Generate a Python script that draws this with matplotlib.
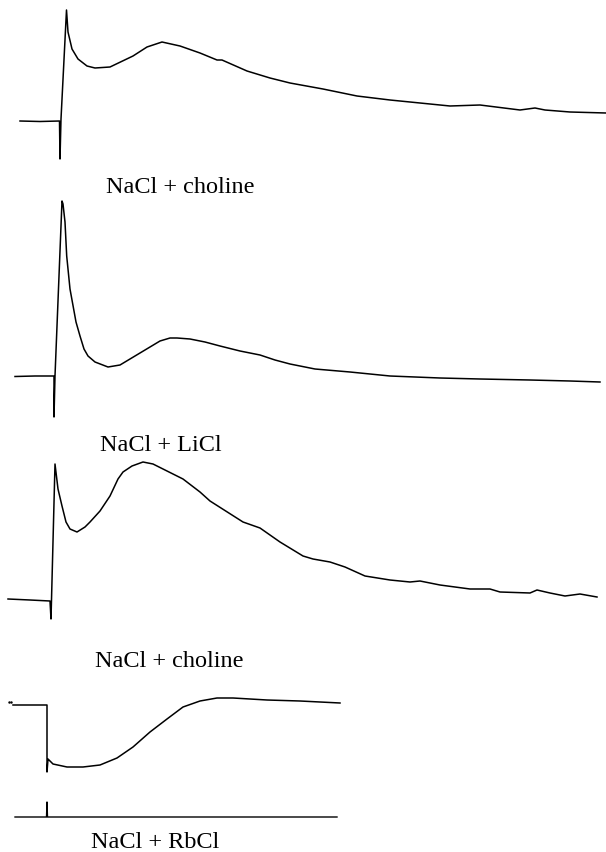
import matplotlib
matplotlib.use('Agg')
import matplotlib.pyplot as plt

# figure size in pixels
W, H = 606, 853

# --- trace 1: NaCl + choline (time in s from stimulus, response in mV) ---
t1 = [-4.0, -2.0, -0.05, 0.0, 0.1, 0.65, 0.8, 1.2, 1.8, 2.7, 3.5, 5.0, 7.3, 8.7,
      10.2, 12.0, 14.0, 15.7, 16.2, 18.7, 21.0, 23.0, 26.3, 29.7, 33.0, 36.0,
      39.0, 42.0, 46.0, 47.5, 48.5, 51.0, 54.6]
v1 = [0.0, -0.05, 0.0, -3.8, 0.2, 11.1, 8.9, 7.2, 6.2, 5.5, 5.3, 5.4, 6.5, 7.4,
      7.9, 7.5, 6.8, 6.1, 6.1, 5.0, 4.3, 3.8, 3.2, 2.5, 2.1, 1.8,
      1.5, 1.6, 1.1, 1.3, 1.1, 0.9, 0.8]

# --- trace 2: NaCl + LiCl ---
t2 = [-3.9, -1.9, 0.0, 0.0, 0.1, 0.8, 0.9, 1.1, 1.27, 1.6, 2.2, 2.6, 3.0, 3.4,
      4.1, 5.4, 6.6, 7.6, 9.1, 10.6, 11.6, 12.3, 13.6, 15.1, 16.6, 18.6, 20.6,
      22.1, 23.6, 26.1, 29.6, 33.6, 38.6, 42.6, 47.6, 51.6, 54.6]
v2 = [-0.05, 0.0, 0.0, -4.1, 0.0, 17.5, 17.2, 15.4, 12.0, 8.7, 5.4, 4.0, 2.7, 2.0,
      1.4, 0.9, 1.1, 1.7, 2.6, 3.5, 3.8, 3.8, 3.7, 3.4, 3.0, 2.5, 2.1,
      1.6, 1.2, 0.7, 0.4, 0.0, -0.2, -0.3, -0.4, -0.5, -0.6]

# --- trace 3: NaCl + choline ---
t3 = [-4.3, -2.1, -0.1, 0.0, 0.05, 0.4, 0.7, 1.1, 1.5, 1.9, 2.6, 3.4, 3.9, 4.9,
      5.9, 6.7, 7.2, 8.1, 9.2, 10.2, 11.6, 13.2, 14.9, 15.9, 19.2, 20.9, 22.9,
      25.2, 26.2, 27.9, 29.4, 31.4, 33.9, 35.9, 36.9, 38.9, 41.9, 43.9, 44.9,
      47.9, 48.6, 49.9, 51.4, 52.9, 54.6]
v3 = [0.1, 0.0, -0.1, -1.9, 0.0, 13.6, 11.1, 9.4, 7.8, 7.1, 6.8, 7.3, 7.8, 8.9,
      10.4, 12.1, 12.8, 13.4, 13.8, 13.6, 12.9, 12.1, 10.8, 9.9, 7.8, 7.2, 5.8,
      4.4, 4.1, 3.8, 3.3, 2.4, 2.0, 1.8, 1.9, 1.5, 1.1, 1.1, 0.8,
      0.7, 1.0, 0.7, 0.4, 0.6, 0.3]

# --- trace 4: NaCl + RbCl (hyperpolarising) ---
t4 = [-3.4, 0.0, 0.0, 0.1, 0.2, 0.6, 2.0, 3.6, 5.3, 7.0, 8.6, 10.3, 12.0, 13.6,
      15.3, 17.0, 18.6, 22.0, 25.3, 29.3]
v4 = [0.0, 0.0, -6.7, -5.4, -5.5, -5.9, -6.2, -6.2, -6.0, -5.3, -4.2, -2.7, -1.4,
      -0.2, 0.4, 0.7, 0.7, 0.5, 0.4, 0.2]

# stimulus marker under trace 4
t_stim = [-3.2, -0.05, 0.0, 0.05, 29.0]
v_stim = [0.0, 0.0, 1.5, 0.0, 0.0]

labels = ['NaCl + choline', 'NaCl + LiCl', 'NaCl + choline', 'NaCl + RbCl']

plt.rcParams['font.family'] = ['Liberation Serif', 'DejaVu Serif']

fig = plt.figure(figsize=(W / 100, H / 100), dpi=100)

# 10 px per second and per mV; each trace gets its own overlay axes
def trace_axes(stim_px, base_px):
    ax = fig.add_axes([0, 0, 1, 1])
    ax.set_xlim(-stim_px / 10, (W - stim_px) / 10)
    ax.set_ylim((base_px - H) / 10, base_px / 10)
    ax.axis('off')
    ax.patch.set_alpha(0)
    return ax

ax = trace_axes(60, 122)
ax.plot(t1, v1, color='black', lw=1.1)

ax = trace_axes(54, 377)
ax.plot(t2, v2, color='black', lw=1.1)

ax = trace_axes(51, 601)
ax.plot(t3, v3, color='black', lw=1.1)

ax = trace_axes(47, 706)
ax.plot(t4, v4, color='black', lw=1.1)
ax.plot([-3.8, -3.6], [0.3, 0.3], 'k.', ms=1.5)

ax = trace_axes(47, 818)
ax.plot(t_stim, v_stim, color='black', lw=1.0)

# labels (x centre, baseline in px)
label_x = [180, 161, 169, 155]
label_y = [193, 451, 667, 848]
for txt, x, y in zip(labels, label_x, label_y):
    fig.text(x / W, 1 - y / H, txt, ha='center', va='baseline', fontsize=17.5)

plt.savefig('out.png', dpi=100)
